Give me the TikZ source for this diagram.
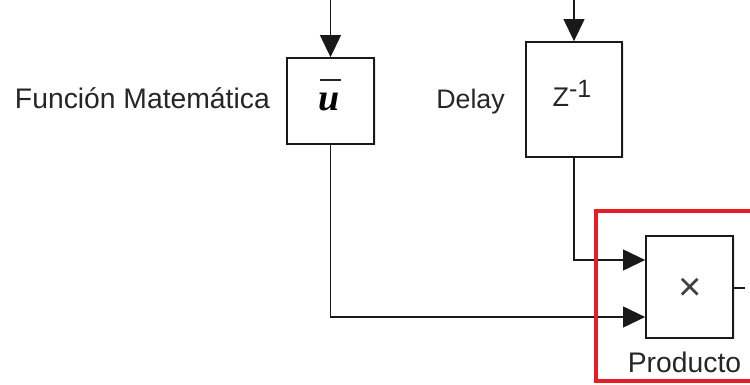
\documentclass[tikz,border=0pt]{standalone}
\usepackage{fontspec}
\setmainfont{Liberation Sans}
\newfontfamily\serifbi{Liberation Serif}
\usetikzlibrary{arrows.meta,shadows}
\definecolor{framered}{RGB}{232,28,36}
\begin{document}
\begin{tikzpicture}[x=1pt,y=1pt,
  blk/.style={draw=black!90,line width=1.8pt,fill=white,inner sep=0pt,
    drop shadow={shadow xshift=1.5pt,shadow yshift=-1.5pt,fill=black!20}},
  sig/.style={draw=black!90,line width=1.2pt,-{Triangle[length=22pt,width=21pt]}},
  wire/.style={draw=black!90,line width=1.2pt},
  lbl/.style={text=black!85,inner sep=0pt}]
\useasboundingbox (0,0) rectangle (750,385);
% blocks
\node[blk,minimum width=87pt,minimum height=86pt] (mean) at (330.5,284) {};
\node[blk,minimum width=96pt,minimum height=115pt] (delay) at (574,285.5) {};
\node[blk,minimum width=87pt,minimum height=102pt] (prod) at (689.5,98) {};
% block contents
\node[inner sep=0pt,font=\serifbi\bfseries\itshape\fontsize{38}{40}\selectfont] (ubar) at (329,283) {u};
\draw[line width=2.5pt,black!85] (320,305) coordinate (b1) -- (341,305) coordinate (b2);
\node[lbl,anchor=base,font=\fontsize{27}{30}\selectfont] (zinv) at (572,278)
  {Z\raisebox{9pt}{\fontsize{25}{28}\selectfont -1}};
\node[inner sep=0pt,font=\fontsize{40}{42}\selectfont,text=black!75] (times) at (690.5,96) {×};
% labels
\node[lbl,anchor=base east,font=\fontsize{28.3}{31}\selectfont] (lmean) at (270,276) {Función Matemática};
\node[lbl,anchor=base east,font=\fontsize{26.8}{30}\selectfont] (ldelay) at (505,276) {Delay};
\node[lbl,anchor=base,font=\fontsize{28.3}{31}\selectfont] (lprod) at (684.5,12) {Producto};
% incoming signals
\coordinate (inmean) at (330.5,385);
\coordinate (indelay) at (574,385);
\draw[sig] (inmean) -- (mean.north);
\draw[sig] (indelay) -- (delay.north);
% signals into the product
\draw[sig] (delay.south) |- (prod.west |- 0,125);
\draw[sig] (mean.south) |- (prod.west |- 0,68);
% output stub
\coordinate (pout) at (745,97);
\draw[wire] (prod.east |- 0,97) -- (pout);
% highlight frame
\coordinate (fr1) at (596,4);
\coordinate (fr2) at (762,173.5);
\draw[draw=framered,line width=4pt] (fr1) rectangle (fr2);
\end{tikzpicture}
\end{document}
